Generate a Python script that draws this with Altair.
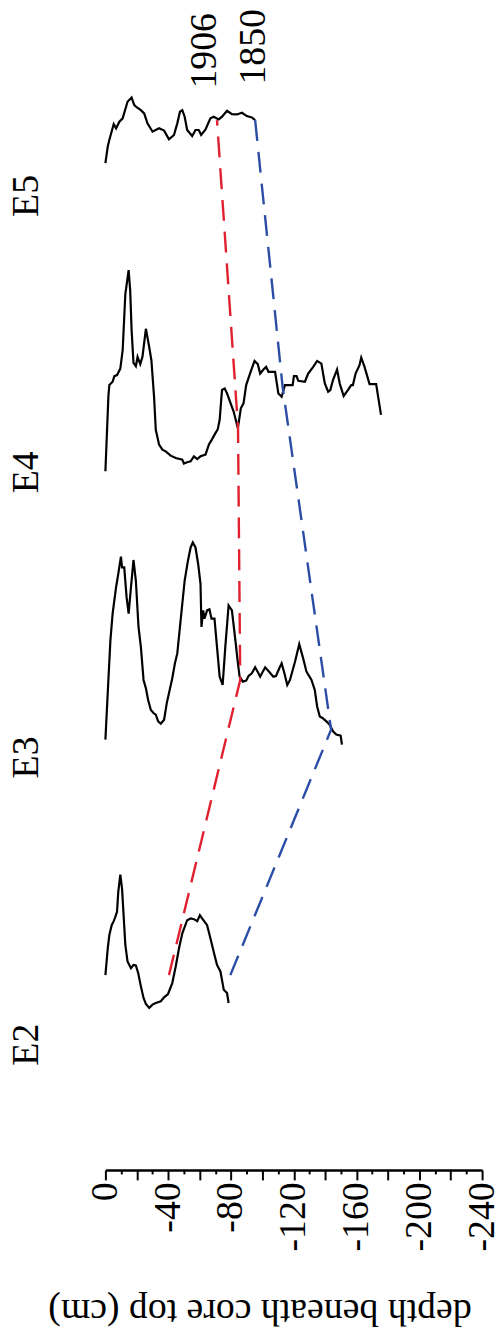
import altair as alt
import pandas as pd

FONT = "Liberation Serif"

# ---------------- data ----------------
cores = ["E2", "E3", "E4", "E5"]
core_base = [196, 433, 703, 1013]          # vertical stacking offset of each core profile
label_pos = [126, 415, 702, 980]           # vertical position of core names
label_depth = 50                           # core names sit left of depth 0

e2_depth = [0, -1.5, -2.5, -4.0, -5.3, -6.1, -7.4, -8.2, -9.5, -10.6,
            -11.6, -12.7, -14.1, -16.3, -17.9, -19.4, -20.9, -22.6, -24.3, -25.8,
            -27.9, -30.0, -32.1, -35.3, -37.4, -39.9, -42.6, -44.8, -46.9, -49.0,
            -52.1, -54.3, -56.4, -58.5, -60.2, -61.6, -64.8, -66.9, -69.5, -71.1,
            -73.3, -75.4, -77.5, -78.5]
e2_val = [0, 27, 40.3, 50.3, 54.3, 57.7, 63.7, 83.7, 101, 87,
          60.3, 30.3, 13.7, 7, 10.3, 9.7, 2, -11.3, -23, -29,
          -33, -29.7, -28, -26.3, -22.3, -19, -8, 8.7, 27, 42,
          55.3, 57, 56.3, 54.3, 60.3, 57, 50.3, 37, 20.3, 10.3,
          3.7, -14.7, -18, -28]

e3_depth = [0, -1.9, -3.2, -4.6, -6.8, -8.2, -9.9, -10.6, -12.0, -13.5,
            -14.8, -16.3, -17.9, -19.4, -21.1, -22.6, -24.3, -25.8, -27.2, -28.9,
            -30.6, -32.1, -33.6, -35.3, -37.4, -39.1, -40.5, -42.6, -44.3, -45.8,
            -47.5, -49.0, -50.5, -52.6, -54.3, -55.7, -57.4, -59.1, -60.6, -61.2,
            -62.3, -63.1, -64.8, -66.3, -67.6, -69.5, -71.1, -72.8, -74.7, -76.4,
            -78.5, -80.6, -82.8, -84.2, -85.5, -87.6, -89.7, -91.2, -93.3, -95.4,
            -97.5, -98.6, -101.8, -104.3, -107.0, -108.7, -110.8, -112.3, -113.8, -115.9,
            -117.6, -120.8, -123.5, -126.0, -128.1, -131.3, -133.4, -134.9, -136.6, -138.3,
            -140.8, -142.9, -145.0, -147.1, -149.9, -150.7]
e3_val = [0, 60, 100, 126.7, 153.3, 166.7, 184, 173.3, 173.3, 143.3,
          126.7, 153.3, 180.7, 160, 113.3, 93.3, 60, 51.7, 40, 30,
          26.7, 25, 18.3, 16, 20, 36.7, 46.7, 61.7, 76.7, 86.7,
          113.3, 136.7, 160, 180, 193.3, 198.3, 193.3, 176.7, 156.7, 113.3,
          130, 121.7, 130, 131, 121.7, 121.7, 93.3, 63.3, 55, 93.3,
          135, 130, 100, 80, 63.3, 58.3, 59.3, 64, 66.7, 72.7,
          66.7, 63.3, 72.7, 68.3, 63.3, 64, 71.7, 76.7, 68.3, 55,
          60, 78.3, 96, 81.7, 68.3, 60, 50, 33.3, 23.3, 21.7,
          18.3, 15, 8.3, 5, 4, -5]

e4_depth = [0, -1.9, -2.5, -4.6, -5.7, -7.4, -9.5, -11.0, -12.7, -14.8,
            -15.8, -16.7, -17.9, -19.4, -20.5, -22.2, -23.6, -25.8, -27.9, -29.3,
            -31.0, -32.1, -34.2, -36.3, -38.4, -41.6, -44.8, -49.0, -50.0, -52.1,
            -54.3, -56.4, -58.5, -60.6, -63.8, -65.9, -68.0, -70.1, -71.6, -72.8,
            -74.3, -76.0, -77.5, -81.7, -84.4, -86.3, -88.0, -89.7, -92.3, -95.0,
            -97.1, -98.6, -100.7, -102.4, -103.9, -108.1, -110.2, -112.3, -114.4, -119.3,
            -120.1, -121.8, -122.9, -127.1, -129.2, -132.4, -134.9, -137.6, -139.8, -141.9,
            -143.3, -145.0, -147.6, -149.3, -151.8, -154.5, -156.6, -157.7, -159.4, -161.9,
            -163.0, -165.1, -168.3, -172.5, -175.6]
e4_val = [0, 75, 86.7, 90, 95.7, 96.7, 103.3, 121.7, 178.3, 202.3,
          181.7, 141.7, 109, 105.7, 115, 107.7, 115, 143.3, 125, 111.7,
          75, 41.7, 26.7, 21.7, 20, 15.7, 13.3, 11.7, 7.7, 9,
          10, 15, 12.3, 15, 16.7, 26.7, 32.3, 38.3, 42.3, 51.7,
          81.7, 83.3, 78.3, 60, 43.3, 63.3, 68.3, 86.7, 99, 111,
          107.7, 98.3, 102.3, 105, 100, 100, 78.3, 75, 86.7, 86.7,
          95.7, 95.7, 91, 90, 98.3, 105, 111, 108.3, 88.3, 80,
          81.7, 91.7, 102.3, 88.3, 75.7, 81.7, 86.7, 86.7, 98.3, 106.7,
          114.3, 105, 87.7, 87.7, 56.7]

e5_depth = [0, -1.5, -2.5, -5.3, -6.8, -8.9, -11.0, -14.1, -16.7, -18.4,
            -20.1, -22.6, -24.7, -26.8, -30.0, -34.2, -37.4, -40.5, -43.7, -45.8,
            -47.5, -49.0, -50.5, -52.1, -55.3, -57.4, -59.5, -61.0, -63.8, -66.9,
            -69.0, -72.2, -74.3, -77.5, -80.6, -83.8, -87.0, -90.1, -93.3, -95.4]
e5_val = [0, 16.7, 23.3, 39.3, 35, 41.7, 45, 61.7, 66, 58.3,
          56, 53.3, 50, 40, 31.7, 35, 32.7, 24, 28.3, 40,
          51.7, 53.3, 46.7, 33.3, 27.3, 33.3, 33.3, 28.3, 34, 45,
          46.7, 44, 46.7, 52.7, 49.3, 49, 50.7, 47.3, 46, 43.3]

# correlation horizons (E2, E3, E4, E5)
horizon_names = ["1906", "1850"]
horizon_colors = ["#e0202f", "#2b4da6"]
red_depth = [-40.5, -85.9, -84.5, -71.1]
red_val = [0, 60, 44, 43.3]
blue_depth = [-79.6, -143.8, -112.9, -95.4]
blue_val = [0, 10, 85, 43.3]
year_depth = [-63.3, -95.0]
year_pos = [1126, 1130]

major_ticks = list(range(0, -241, -20))
minor_ticks = list(range(-10, -240, -20))

# ---------------- tables ----------------
rows = []
for core, base, ds, vs in zip(cores, core_base,
                              [e2_depth, e3_depth, e4_depth, e5_depth],
                              [e2_val, e3_val, e4_val, e5_val]):
    for i, (d, v) in enumerate(zip(ds, vs)):
        rows.append({"core": core, "depth": d, "y": base + v, "i": i})
curves = pd.DataFrame(rows)

hrows = []
for name, ds, vs in zip(horizon_names, [red_depth, blue_depth], [red_val, blue_val]):
    for i, (core, base, d, v) in enumerate(zip(cores, core_base, ds, vs)):
        hrows.append({"year": name, "depth": d, "y": base + v, "i": i})
horizons = pd.DataFrame(hrows)

labels = pd.DataFrame({"core": cores, "depth": [label_depth] * 4, "y": label_pos})
years = pd.DataFrame({"year": horizon_names, "depth": year_depth, "y": year_pos})

W, H = 379, 1163
xscale = alt.Scale(domain=[-240, 0], reverse=True, nice=False, zero=False)
yscale = alt.Scale(domain=[0, H], nice=False, zero=False)

major_axis = alt.Axis(
    orient="bottom", values=major_ticks, grid=False,
    tickSize=10, tickWidth=2, tickColor="black",
    domainWidth=2.5, domainColor="black",
    labelExpr="datum.value % 40 === 0 ? '' + datum.value : ''",
    labelFont=FONT, labelFontSize=38, labelColor="black",
    labelAngle=270, labelAlign="right", labelBaseline="middle", labelPadding=2,
    labelOverlap=False, labelFlush=False,
    title="depth beneath core top (cm)", titleFont=FONT, titleFontSize=38,
    titleFontWeight="normal", titleColor="black", titleAngle=180,
    titleAlign="center", titleBaseline="middle", titleX=155, titleY=141,
)
minor_axis = alt.Axis(
    orient="bottom", values=minor_ticks, grid=False, domain=False,
    tickSize=4, tickWidth=2, tickColor="black", labels=False, title=None,
)

curve_layer = alt.Chart(curves).mark_line(color="black", strokeWidth=2.2).encode(
    x=alt.X("depth:Q", scale=xscale, axis=major_axis),
    y=alt.Y("y:Q", scale=yscale, axis=None),
    detail="core:N",
    order="i:Q",
)

horizon_layer = alt.Chart(horizons).mark_line(strokeWidth=2.4, strokeDash=[21, 11]).encode(
    x=alt.X("depth:Q", scale=xscale, axis=None),
    y=alt.Y("y:Q", scale=yscale, axis=None),
    color=alt.Color("year:N", scale=alt.Scale(domain=horizon_names, range=horizon_colors), legend=None),
    order="i:Q",
)

label_layer = alt.Chart(labels).mark_text(
    font=FONT, fontSize=38, angle=270, align="center", baseline="middle", color="black"
).encode(
    x=alt.X("depth:Q", scale=xscale, axis=minor_axis),
    y=alt.Y("y:Q", scale=yscale, axis=None),
    text="core:N",
)

year_layer = alt.Chart(years).mark_text(
    font=FONT, fontSize=38, angle=270, align="center", baseline="middle", color="black"
).encode(
    x=alt.X("depth:Q", scale=xscale, axis=None),
    y=alt.Y("y:Q", scale=yscale, axis=None),
    text="year:N",
)

chart = alt.layer(curve_layer, horizon_layer, label_layer, year_layer).resolve_axis(
    x="independent"
).properties(
    width=W, height=H,
    padding={"left": 98, "top": 2, "right": 14, "bottom": 160},
    autosize=alt.AutoSizeParams(type="none"),
).configure_view(stroke=None)

chart.save("out.html", embed_options={"renderer": "svg", "actions": False})
